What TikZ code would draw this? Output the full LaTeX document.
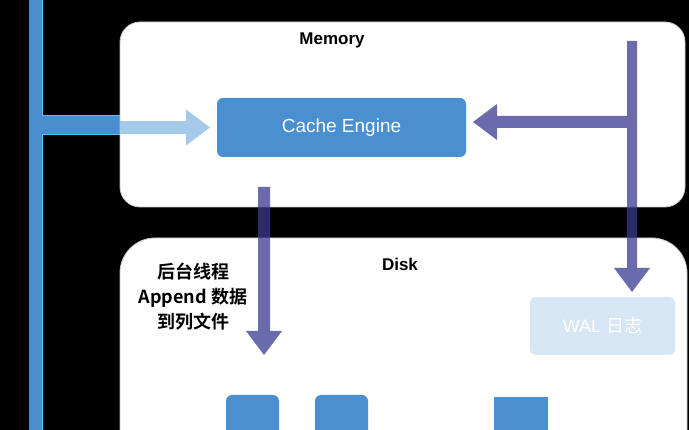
\documentclass[tikz,border=0pt]{standalone}
\usepackage{fontspec}
\setmainfont{Liberation Sans}
\newfontfamily\cjk{Noto Sans CJK SC}[BoldFont={Noto Sans CJK SC Bold}]
\usepackage{xcolor}
\usetikzlibrary{arrows.meta,calc,positioning}
\definecolor{busblue}{RGB}{74,142,208}
\definecolor{cacheblue}{RGB}{74,143,208}
\definecolor{lightarrow}{RGB}{165,201,233}
\definecolor{walpurple}{RGB}{58,58,145}
\definecolor{walfill}{RGB}{214,230,244}

\begin{document}
\begin{tikzpicture}[x=1pt,y=-1pt]
	\tikzstyle{every node} = [inner sep=0pt, outer sep=0pt]
	\tikzstyle{panel} = [rectangle, fill=white, draw=gray!45, line width=0.8pt]
	\tikzstyle{bluebox} = [rectangle, rounded corners=6pt, fill=cacheblue, text=white, font=\fontsize{19}{23}\selectfont]
	\tikzstyle{title} = [font=\fontsize{17}{20}\selectfont\bfseries]
	\tikzstyle{fat} = [-{Triangle[length=24pt,width=36pt,line width=0pt]}]
\useasboundingbox (0,0) rectangle (689,430);
\clip (0,0) rectangle (689,430);
\fill[black] (0,0) rectangle (689,430);
% bus on the left
\fill[busblue] (29,0) rectangle (42,430);
\fill[busblue] (42,115) rectangle (120,134);
\draw[cyan!70!white, line width=0.6pt] (42,0) -- (42,115) -- (120,115) (120,134) -- (42,134) -- (42,430);
% memory and disk
\node[panel, rounded corners=20pt, minimum width=565pt, minimum height=185pt] (mem) at (402.5,114.5) {};
\node[panel, rounded corners=35pt, minimum width=567pt, minimum height=282pt] (disk) at (403.5,379) {};
\node[title] (memlabel) at (332,40) {Memory};
\node[title] (disklabel) at (400,264) {Disk};
\node[bluebox, minimum width=249pt, minimum height=59pt] (cache) at (341.5,127.5) {Cache Engine};
\node[bluebox, fill=walfill, minimum width=145pt, minimum height=58pt, font=\fontsize{18}{22}\selectfont] (wal) at (602.5,326) {WAL \cjk 日志};
\node[align=center, font=\cjk\bfseries\fontsize{18}{25}\selectfont] (append) at (193,297) {后台线程\\Append 数据\\到列文件};
% column files
\node[bluebox, minimum width=53pt, minimum height=50pt] (col1) at (252.5,420) {};
\node[bluebox, minimum width=53pt, minimum height=50pt] (col2) at (341.5,420) {};
\node[bluebox, rounded corners=0pt, minimum width=54pt, minimum height=48pt] (col3) at (521,421) {};
% arrows
\coordinate (walin) at (632,41);
\coordinate (walbend) at (627,122);
\coordinate (appendtop) at (264,187);
\coordinate (appendtip) at (264,355);
	\path[draw, fat, lightarrow, line width=13pt] (mem.west |- cache) -- ($(cache.west)+(-7,0)$);
\begin{scope}[transparency group, opacity=0.75]
	\path[draw, fat, walpurple, line width=10pt] (walin) -- ($(walin |- wal.north)+(0,-5)$);
	\path[draw, fat, walpurple, line width=12pt] (walbend) -- ($(walbend -| cache.east)+(7,0)$);
	\path[draw, fat, walpurple, line width=12pt] (appendtop) -- (appendtip);
\end{scope}
\end{tikzpicture}
\end{document}
